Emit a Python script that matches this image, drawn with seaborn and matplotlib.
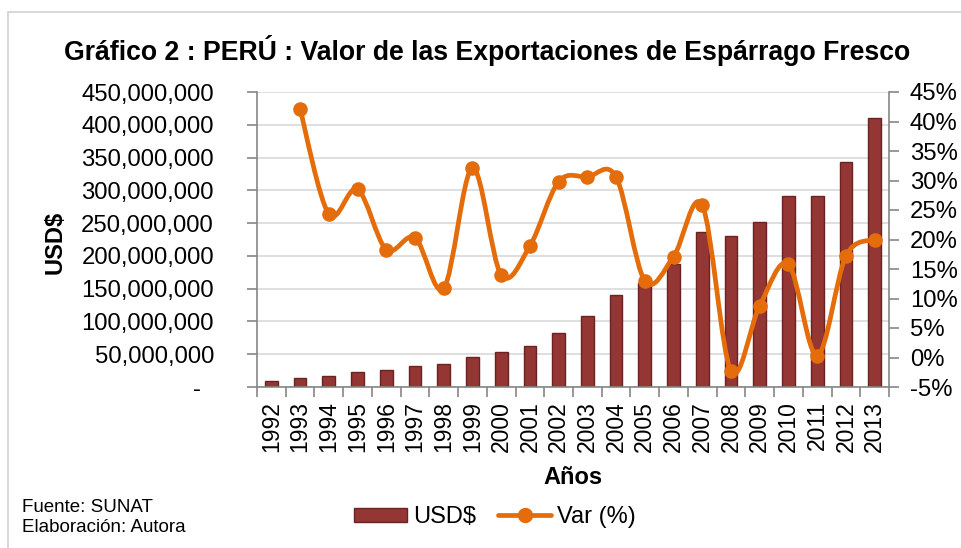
import numpy as np
import pandas as pd
import matplotlib
matplotlib.use('Agg')
import matplotlib.pyplot as plt
from matplotlib.path import Path
from matplotlib.patches import PathPatch, Rectangle
from matplotlib.lines import Line2D
from matplotlib.ticker import FuncFormatter, MultipleLocator
import seaborn as sns

years = [str(y) for y in range(1992, 2014)]
usd = [9.2e6, 13.8e6, 16.8e6, 22.4e6, 26e6, 31.6e6, 35.2e6, 46.4e6, 53e6, 63e6, 82.7e6,
       108e6, 141e6, 159e6, 188e6, 236e6, 231e6, 251.5e6, 291e6, 292e6, 343e6, 411e6]
var = [np.nan, 42.1, 24.3, 28.5, 18.3, 20.3, 11.7, 32.1, 14.0, 18.9, 29.8,
       30.6, 30.6, 13.0, 17.1, 25.8, -2.3, 8.8, 15.8, 0.3, 17.2, 20.0]

bar_color = '#943634'
bar_edge = '#6a2321'
line_color = '#E46C0A'
grid_color = '#d9d9d9'
axis_color = '#868686'

sns.set_theme(style='white')
plt.rcParams['font.family'] = ['Liberation Sans', 'DejaVu Sans']
plt.rcParams['text.color'] = 'black'
plt.rcParams['xtick.labelcolor'] = 'black'
plt.rcParams['ytick.labelcolor'] = 'black'

df = pd.DataFrame({'Año': years, 'USD': usd, 'Var': var})

fig = plt.figure(figsize=(9.61, 5.48), dpi=100)
W, H = 961, 548
ax = fig.add_axes([257 / W, 1 - 387 / H, (889 - 257) / W, (387 - 92) / H])

# borde del grafico
fig.patches.append(Rectangle((8 / W, -0.1), 1.2, 1 - 12 / H + 0.1, transform=fig.transFigure,
                             fill=False, edgecolor=grid_color, linewidth=1.5))

sns.barplot(data=df, x='Año', y='USD', color=bar_color, edgecolor=bar_edge, linewidth=1,
            width=0.44, saturation=1, ax=ax, zorder=2)
ax.set_xlim(-0.5, len(years) - 0.5)
ax.set_ylim(0, 450e6)
ax.yaxis.set_major_locator(MultipleLocator(50e6))
ax.yaxis.set_major_formatter(FuncFormatter(lambda v, p: '-  ' if v == 0 else f'{v:,.0f}'))
ax.grid(axis='y', color=grid_color, linewidth=1.2, zorder=0)
ax.set_axisbelow(True)
ax.set_xlabel('')
ax.set_ylabel('')
ax.tick_params(axis='y', labelsize=17.2, length=7, width=1.2, color=axis_color, pad=24, left=True)
ax.tick_params(axis='x', which='major', labelsize=16.5, length=0, rotation=90, pad=10)
ax.set_xticks(np.arange(-0.5, len(years), 1), minor=True)
ax.tick_params(axis='x', which='minor', length=7, width=1.2, color=axis_color, bottom=True)
for s in ['top', 'right']:
    ax.spines[s].set_visible(False)
for s in ['left', 'bottom']:
    ax.spines[s].set_color(axis_color)
    ax.spines[s].set_linewidth(1.2)

ax2 = ax.twinx()
ax2.set_ylim(-5, 45)
ax2.yaxis.set_major_locator(MultipleLocator(5))
ax2.yaxis.set_major_formatter(FuncFormatter(lambda v, p: f'{v:.0f}%'))
ax2.tick_params(axis='y', labelsize=17.2, length=7, width=1.2, color=axis_color, pad=8, right=True)
for s in ['top', 'left', 'bottom']:
    ax2.spines[s].set_visible(False)
ax2.spines['right'].set_color(axis_color)
ax2.spines['right'].set_linewidth(1.2)
ax2.grid(False)

# linea suavizada (curvas Bezier como en Excel)
xs = np.arange(len(years))[1:].astype(float)
ys = np.array(var[1:], dtype=float)
verts = [(xs[0], ys[0])]
codes = [Path.MOVETO]
n = len(xs)
for i in range(n - 1):
    p0 = (xs[max(i - 1, 0)], ys[max(i - 1, 0)])
    p1 = (xs[i], ys[i])
    p2 = (xs[i + 1], ys[i + 1])
    p3 = (xs[min(i + 2, n - 1)], ys[min(i + 2, n - 1)])
    c1 = (p1[0] + (p2[0] - p0[0]) / 6, p1[1] + (p2[1] - p0[1]) / 6)
    c2 = (p2[0] - (p3[0] - p1[0]) / 6, p2[1] - (p3[1] - p1[1]) / 6)
    verts += [c1, c2, p2]
    codes += [Path.CURVE4] * 3
ax2.add_patch(PathPatch(Path(verts, codes), facecolor='none', edgecolor=line_color,
                        linewidth=3.4, capstyle='round', joinstyle='round', zorder=3))
sns.scatterplot(x=np.arange(len(years)), y=var, color=line_color, s=110, edgecolor=line_color,
                linewidth=0, ax=ax2, zorder=4)

fig.text(0.5 + 7 / W, 1 - 50 / H, 'Gráfico 2 : PERÚ : Valor de las Exportaciones de Espárrago Fresco',
         ha='center', va='center', fontsize=19.2, fontweight='bold')
fig.text(55 / W, 1 - 242 / H, 'USD$', rotation=90, ha='center', va='center',
         fontsize=17, fontweight='bold')
fig.text(573 / W, 1 - 478 / H, 'Años', ha='center', va='center', fontsize=17, fontweight='bold')

handles = [Rectangle((0, 0), 1, 1, facecolor=bar_color, edgecolor=bar_edge, linewidth=1),
           Line2D([], [], color=line_color, linewidth=3.4, marker='o', markersize=10)]
fig.legend(handles, ['USD$', 'Var (%)'], loc='center', bbox_to_anchor=(495 / W, 1 - 517 / H),
           ncol=2, frameon=False, fontsize=17, handlelength=2.25, handleheight=0.55,
           handletextpad=0.25, columnspacing=0.95)

fig.text(22 / W, 1 - 508 / H, 'Fuente: SUNAT', ha='left', va='center', fontsize=13.5)
fig.text(22 / W, 1 - 528 / H, 'Elaboración: Autora', ha='left', va='center', fontsize=13.5)

fig.savefig('out.png', dpi=100)
